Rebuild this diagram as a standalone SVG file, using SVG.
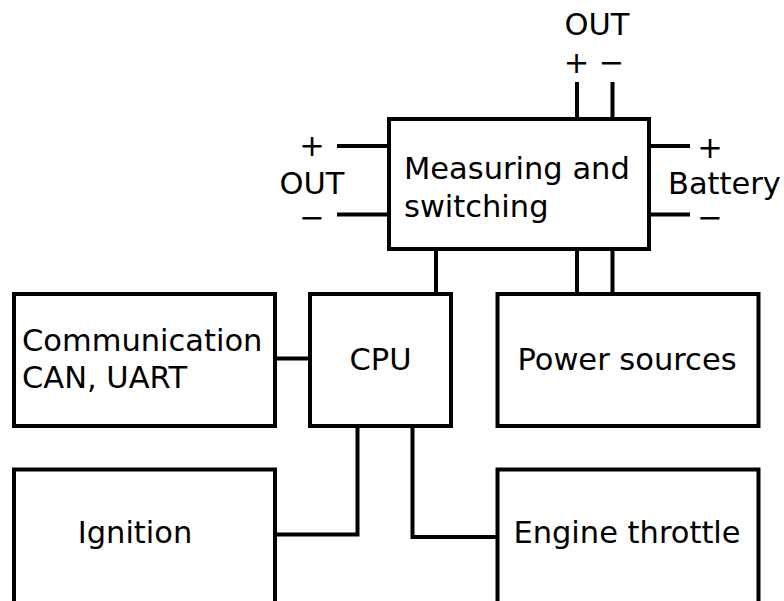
<svg xmlns="http://www.w3.org/2000/svg" width="784" height="601" viewBox="0 0 784 601">
<style>
.box{fill:#fff;stroke:#000;stroke-width:4}
.ln{fill:none;stroke:#000;stroke-width:4}
text{font-family:"DejaVu Sans",sans-serif;font-size:30.5px;fill:#000}
.m{text-anchor:middle}
</style>
<rect width="784" height="601" fill="#fff"/>
<g id="connectors">
<path class="ln" d="M577,82V119 M612.5,82V119"/>
<path class="ln" d="M337,146H389 M337,214.5H389"/>
<path class="ln" d="M649,146H690 M649,214.5H690"/>
<path class="ln" d="M436,249V294"/>
<path class="ln" d="M577,249V294 M612.5,249V294"/>
<path class="ln" d="M275,358.5H310"/>
<path class="ln" d="M357.5,426V534.5H275"/>
<path class="ln" d="M412.5,426V537H497.5"/>
</g>
<g id="measuring">
<rect class="box" x="389" y="119" width="260" height="130"/>
<text x="404" y="179">Measuring and</text>
<text x="404" y="217">switching</text>
</g>
<g id="out-top">
<text class="m" x="597" y="35">OUT</text>
<text class="m" x="576.5" y="73">+</text>
<text class="m" x="611.5" y="73">−</text>
</g>
<g id="out-left">
<text class="m" x="312" y="156">+</text>
<text class="m" x="312" y="194">OUT</text>
<text class="m" x="312" y="228">−</text>
</g>
<g id="battery">
<text class="m" x="710" y="158">+</text>
<text x="668" y="194">Battery</text>
<text class="m" x="710" y="228">−</text>
</g>
<g id="communication">
<rect class="box" x="14" y="294" width="261" height="132"/>
<text x="22" y="351">Communication</text>
<text x="22" y="388">CAN, UART</text>
</g>
<g id="cpu">
<rect class="box" x="310" y="294" width="141" height="132"/>
<text class="m" x="380.5" y="369.5">CPU</text>
</g>
<g id="power">
<rect class="box" x="497.5" y="294" width="261" height="132"/>
<text class="m" x="627" y="370">Power sources</text>
</g>
<g id="ignition">
<rect class="box" x="14" y="469.5" width="261" height="140"/>
<text class="m" x="135" y="543">Ignition</text>
</g>
<g id="throttle">
<rect class="box" x="497.5" y="469.5" width="261" height="140"/>
<text class="m" x="627" y="543">Engine throttle</text>
</g>
</svg>
